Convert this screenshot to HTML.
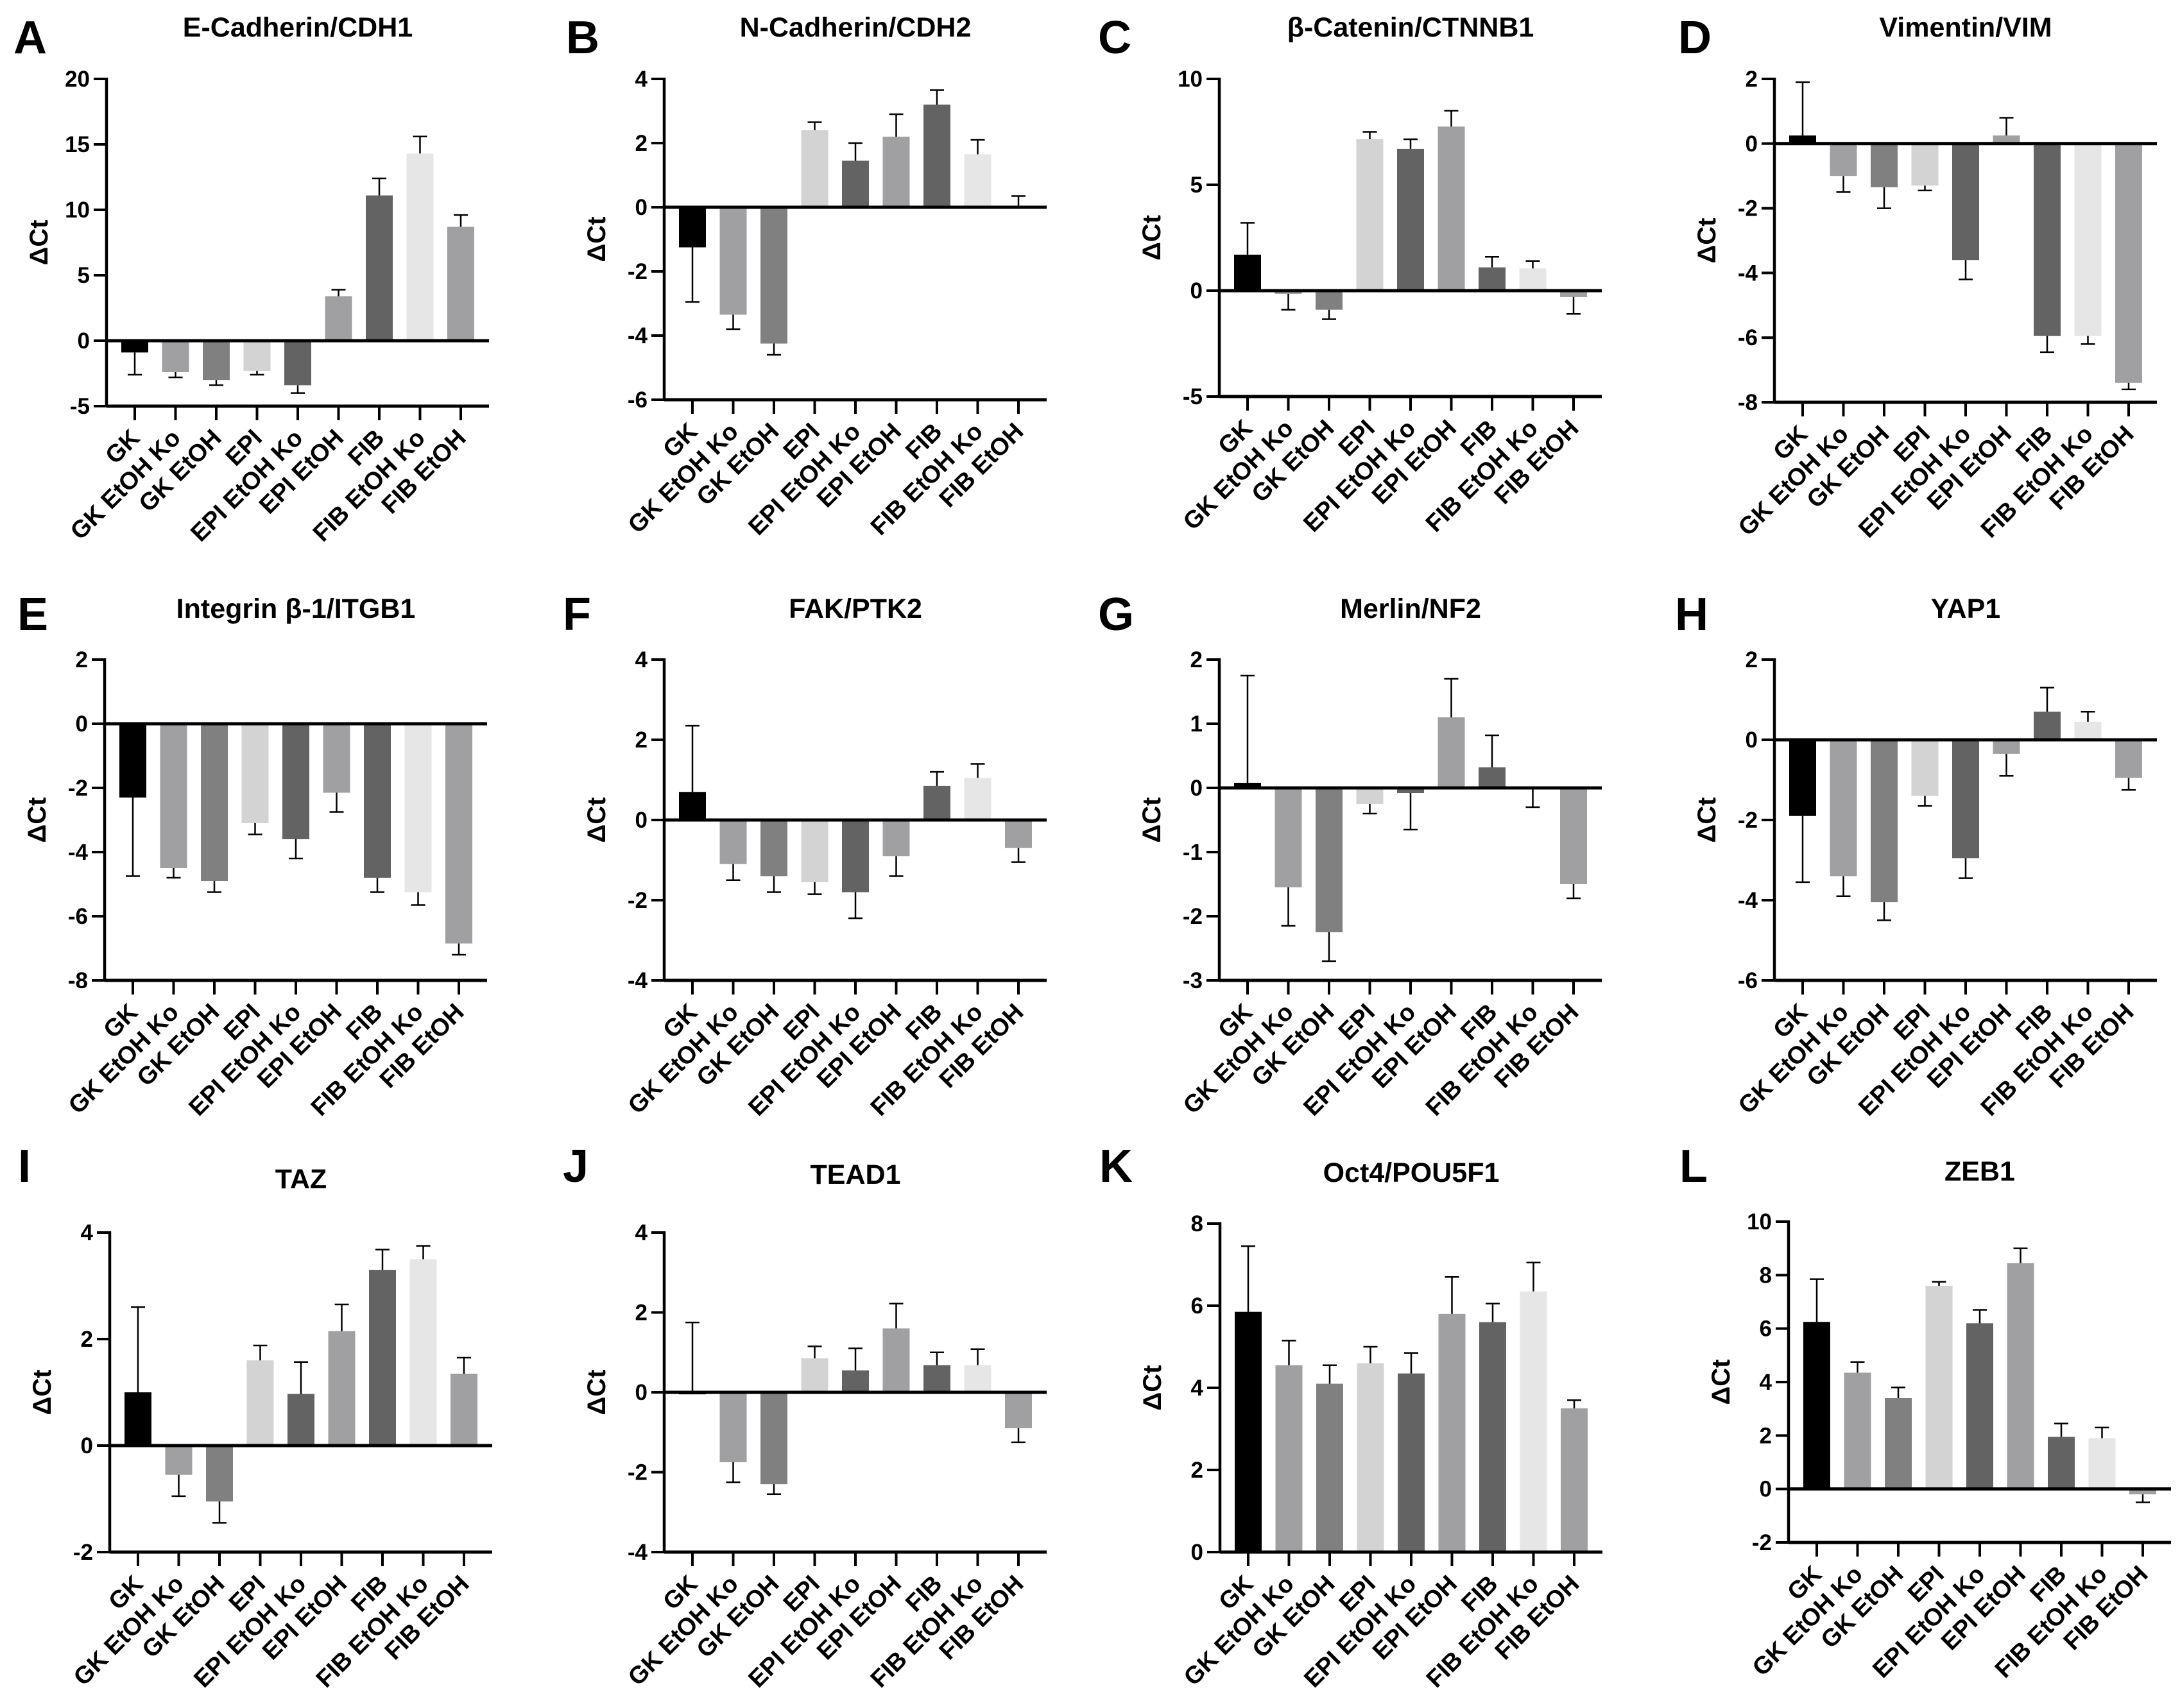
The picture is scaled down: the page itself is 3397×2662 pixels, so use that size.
<!DOCTYPE html>
<html><head><meta charset="utf-8">
<style>
html,body{margin:0;padding:0;background:#fff;}
svg{display:block;font-family:"Liberation Sans",Arial,sans-serif;}
</style></head>
<body>
<svg id="fig" width="3397" height="2662" viewBox="0 0 3397 2662" xmlns="http://www.w3.org/2000/svg"></svg>
<script>
const categories = ["GK","GK EtOH Ko","GK EtOH","EPI","EPI EtOH Ko","EPI EtOH","FIB","FIB EtOH Ko","FIB EtOH"];
const barColors = ["#000000","#a0a0a3","#808080","#d3d3d3","#636363","#a0a0a3","#636363","#e6e6e6","#a0a0a3"];

const titles = ["E-Cadherin/CDH1","N-Cadherin/CDH2","β-Catenin/CTNNB1","Vimentin/VIM","Integrin β-1/ITGB1","FAK/PTK2","Merlin/NF2","YAP1","TAZ","TEAD1","Oct4/POU5F1","ZEB1"];
const letters = ["A","B","C","D","E","F","G","H","I","J","K","L"];

const valsA = [-0.9,-2.4,-3.0,-2.3,-3.4,3.4,11.1,14.3,8.7];
const errA  = [-1.7,-0.4,-0.4,-0.3,-0.6,0.5,1.3,1.3,0.9];
const valsB = [-1.25,-3.35,-4.25,2.4,1.45,2.2,3.2,1.65,-0.05];
const errB  = [-1.7,-0.45,-0.35,0.25,0.55,0.7,0.45,0.45,0.4];
const valsC = [1.7,-0.15,-0.9,7.15,6.7,7.75,1.1,1.05,-0.3];
const errC  = [1.5,-0.75,-0.45,0.35,0.45,0.75,0.5,0.35,-0.8];
const valsD = [0.25,-1.0,-1.35,-1.3,-3.6,0.25,-5.95,-5.95,-7.4];
const errD  = [1.65,-0.5,-0.65,-0.15,-0.6,0.55,-0.5,-0.25,-0.2];
const valsE = [-2.3,-4.5,-4.9,-3.1,-3.6,-2.15,-4.8,-5.25,-6.85];
const errE  = [-2.45,-0.3,-0.35,-0.35,-0.6,-0.6,-0.45,-0.4,-0.35];
const valsF = [0.7,-1.1,-1.4,-1.55,-1.8,-0.9,0.85,1.05,-0.7];
const errF  = [1.65,-0.4,-0.4,-0.3,-0.65,-0.5,0.35,0.35,-0.35];
const valsG = [0.08,-1.55,-2.25,-0.25,-0.08,1.1,0.32,-0.02,-1.5];
const errG  = [1.67,-0.6,-0.45,-0.15,-0.57,0.6,0.5,-0.28,-0.22];
const valsH = [-1.9,-3.4,-4.05,-1.4,-2.95,-0.35,0.7,0.45,-0.95];
const errH  = [-1.65,-0.5,-0.45,-0.25,-0.5,-0.55,0.6,0.25,-0.3];
const valsI = [1.0,-0.55,-1.05,1.6,0.97,2.15,3.3,3.5,1.35];
const errI  = [1.6,-0.4,-0.4,0.28,0.6,0.5,0.38,0.25,0.3];
const valsJ = [-0.05,-1.75,-2.3,0.85,0.55,1.6,0.68,0.68,-0.9];
const errJ  = [1.8,-0.5,-0.25,0.3,0.55,0.62,0.32,0.4,-0.35];
const valsK = [5.85,4.55,4.1,4.6,4.35,5.8,5.6,6.35,3.5];
const errK  = [1.6,0.6,0.45,0.4,0.5,0.9,0.45,0.7,0.2];
const valsL = [6.25,4.35,3.4,7.6,6.2,8.45,1.95,1.9,-0.2];
const errL  = [1.6,0.4,0.4,0.15,0.5,0.55,0.5,0.4,-0.3];

const yTicksA = [20,15,10,5,0,-5];
const yTicksB = [4,2,0,-2,-4,-6];
const yTicksC = [10,5,0,-5];
const yTicksD = [2,0,-2,-4,-6,-8];
const yTicksE = [2,0,-2,-4,-6,-8];
const yTicksF = [4,2,0,-2,-4];
const yTicksG = [2,1,0,-1,-2,-3];
const yTicksH = [2,0,-2,-4,-6];
const yTicksI = [4,2,0,-2];
const yTicksJ = [4,2,0,-2,-4];
const yTicksK = [8,6,4,2,0];
const yTicksL = [10,8,6,4,2,0,-2];

const allVals = [valsA,valsB,valsC,valsD,valsE,valsF,valsG,valsH,valsI,valsJ,valsK,valsL];
const allErr = [errA,errB,errC,errD,errE,errF,errG,errH,errI,errJ,errK,errL];
const allTicks = [yTicksA,yTicksB,yTicksC,yTicksD,yTicksE,yTicksF,yTicksG,yTicksH,yTicksI,yTicksJ,yTicksK,yTicksL];

// layout (pixel geometry, not data)
const layout = [
 {ax:166,top:123,bot:633,lx:21,lb:83,tb:57},
 {ax:1035,top:123,bot:623,lx:882,lb:83,tb:57},
 {ax:1900,top:123,bot:618,lx:1711,lb:83,tb:57},
 {ax:2765,top:123,bot:627,lx:2615,lb:83,tb:57},
 {ax:163,top:1028,bot:1528,lx:27,lb:982,tb:963},
 {ax:1035,top:1028,bot:1528,lx:877,lb:982,tb:963},
 {ax:1900,top:1028,bot:1528,lx:1711,lb:982,tb:963},
 {ax:2765,top:1028,bot:1528,lx:2610,lb:982,tb:963},
 {ax:171,top:1921,bot:2419,lx:28,lb:1842,tb:1852},
 {ax:1035,top:1921,bot:2419,lx:877,lb:1842,tb:1845},
 {ax:1901,top:1907,bot:2419,lx:1713,lb:1842,tb:1842},
 {ax:2787,top:1904,bot:2404,lx:2617,lb:1842,tb:1840}
];

const NS = "http://www.w3.org/2000/svg";
const svg = document.getElementById('fig');
function mk(tag, attrs, parent){
  const e = document.createElementNS(NS, tag);
  for (const k in attrs) e.setAttribute(k, attrs[k]);
  parent.appendChild(e);
  return e;
}

for (let p = 0; p < 12; p++) {
  const L = layout[p], vals = allVals[p], errs = allErr[p], ticks = allTicks[p];
  const ymax = Math.max(...ticks), ymin = Math.min(...ticks);
  const y = v => L.top + (ymax - v) / (ymax - ymin) * (L.bot - L.top);
  const x = i => L.ax + 44 + 63.5 * i;
  const xEnd = L.ax + 596;

  const g = mk('g', {}, svg);
  
  

  const letter = mk('text', {x:L.lx, y:L.lb, 'font-size':72, 'font-weight':'bold'}, g);
  letter.textContent = letters[p];
  
  

  const title = mk('text', {x:L.ax + 298, y:L.tb, 'font-size':43, 'font-weight':'bold', 'text-anchor':'middle'}, g);
  title.textContent = titles[p];
  
  

  const yl = mk('text', {x:0, y:0, 'font-size':40, 'font-weight':'bold', 'text-anchor':'middle',
    transform:`translate(${L.ax - 92},${(L.top + L.bot) / 2}) rotate(-90)`}, g);
  yl.textContent = 'ΔCt';
  
  

  for (let i = 0; i < vals.length; i++) {
    const y0 = y(0), yv = y(vals[i]);
    const r = mk('rect', {x:x(i) - 21, y:Math.min(y0, yv), width:42, height:Math.max(1, Math.abs(yv - y0)), fill:barColors[i]}, g);
    
    
    const ye = y(vals[i] + errs[i]);
    const eb = mk('path', {d:`M${x(i)},${yv}V${ye}M${x(i) - 11},${ye}H${x(i) + 11}`, stroke:'#000', 'stroke-width':2.5, fill:'none'}, g);
    
    
  }

  const yax = mk('path', {d:`M${L.ax},${L.top - 2}V${L.bot + 2}`, stroke:'#000', 'stroke-width':4.5}, g);
  
  
  for (const t of ticks) {
    mk('path', {d:`M${L.ax - 20},${y(t)}H${L.ax}`, stroke:'#000', 'stroke-width':4}, g);
    const tl = mk('text', {x:L.ax - 26, y:y(t) + 12, 'font-size':35, 'font-weight':'bold', 'text-anchor':'end'}, g);
    tl.textContent = String(t);
    
    
  }
  const zl = mk('path', {d:`M${L.ax},${y(0)}H${xEnd}`, stroke:'#000', 'stroke-width':5}, g);
  
  
  const yb = L.bot;
  const xax = mk('path', {d:`M${L.ax},${yb}H${xEnd}`, stroke:'#000', 'stroke-width':5}, g);
  
  
  for (let i = 0; i < categories.length; i++) {
    mk('path', {d:`M${x(i)},${yb}V${yb + 22}`, stroke:'#000', 'stroke-width':4}, g);
    const ax = x(i) + 10, ay = yb + 52;
    const cl = mk('text', {x:ax, y:ay, 'font-size':38, 'font-weight':'bold', 'text-anchor':'end',
      transform:`rotate(-45 ${ax} ${ay})`}, g);
    cl.textContent = categories[i];
    
    
  }
}
</script>
</body></html>
